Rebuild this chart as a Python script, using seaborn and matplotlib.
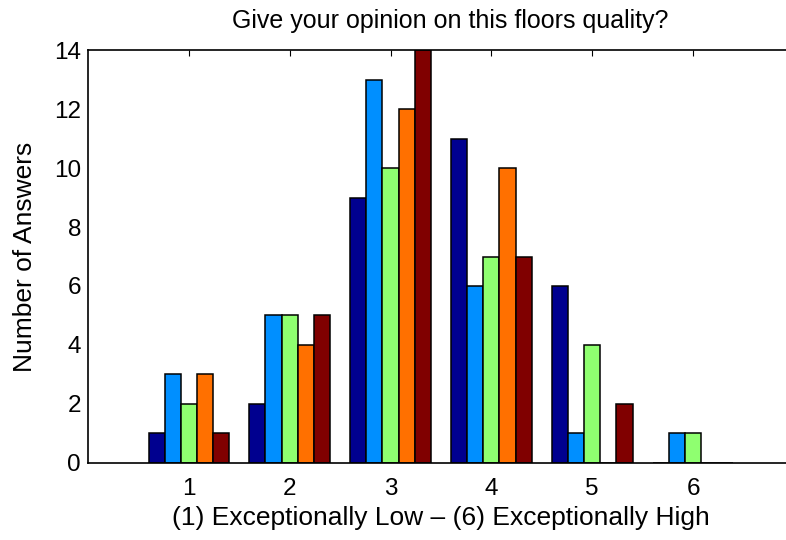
import seaborn as sns
import matplotlib.pyplot as plt
import pandas as pd

# 응답 데이터 (1 ~ 6 점수별, 5개 그룹)
ratings = ["1", "2", "3", "4", "5", "6"]
groups = ["A", "B", "C", "D", "E"]
counts_a = [1, 2, 9, 11, 6, 0]
counts_b = [3, 5, 13, 6, 1, 1]
counts_c = [2, 5, 10, 7, 4, 1]
counts_d = [3, 4, 12, 10, 0, 0]
counts_e = [1, 5, 14, 7, 2, 0]
colors = ["#00008F", "#008FFF", "#8FFF70", "#FF7000", "#800000"]

rows = []
for g, vals in zip(groups, [counts_a, counts_b, counts_c, counts_d, counts_e]):
    for r, v in zip(ratings, vals):
        rows.append({"rating": r, "group": g, "count": v})
df = pd.DataFrame(rows)

sns.set_style("white")
plt.rcParams["font.family"] = ["Liberation Sans", "DejaVu Sans"]
plt.rcParams["text.color"] = "black"
plt.rcParams["axes.labelcolor"] = "black"
plt.rcParams["xtick.color"] = "black"
plt.rcParams["ytick.color"] = "black"

fig = plt.figure(figsize=(7.86, 5.4), dpi=100)
ax = fig.add_axes([0.112, 0.1426, 0.898, 0.7648])

sns.barplot(data=df, x="rating", y="count", hue="group", palette=colors,
            width=0.8, edgecolor="black", linewidth=1.1, saturation=1,
            legend=False, ax=ax)

ax.set_xlim(-1, 6)
ax.set_ylim(0, 14)
ax.set_yticks(range(0, 15, 2))
ax.tick_params(direction="in", length=4, width=0.8, top=True, right=True,
               labelsize=17.5)
ax.tick_params(axis="x", pad=11)
ax.tick_params(axis="y", pad=5)
for s in ax.spines.values():
    s.set_linewidth(1.2)
    s.set_color("black")

ax.set_title("Give your opinion on this floors quality?", fontsize=18, pad=16, x=0.513)
ax.set_xlabel("(1) Exceptionally Low \u2013 (6) Exceptionally High", fontsize=19, labelpad=4)
ax.set_ylabel("Number of Answers", fontsize=19, labelpad=12)

fig.savefig("out.png", dpi=100)
